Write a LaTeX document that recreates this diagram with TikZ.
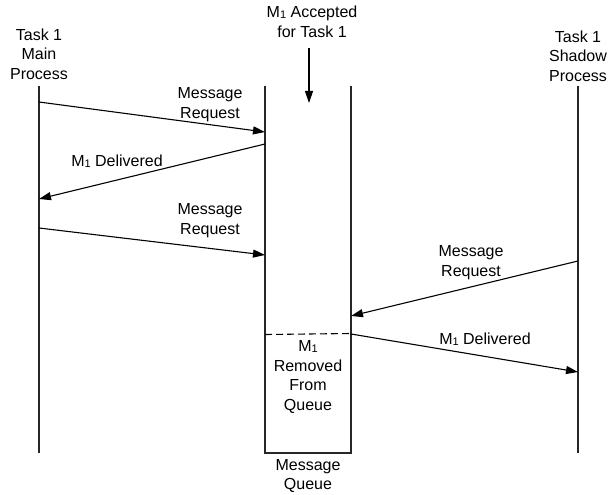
\documentclass[tikz,border=0pt]{standalone}
\usepackage{fontspec}
\setmainfont{Liberation Sans}
\usetikzlibrary{arrows.meta}
\newcommand{\Mone}{M{\fontsize{11}{11}\selectfont\raisebox{-0.5pt}{1}}}
\begin{document}
\begin{tikzpicture}[x=1pt,y=-1pt,
  lbl/.style={align=center,font=\fontsize{16}{19.5}\selectfont,inner sep=0pt},
  life/.style={line width=1.3pt,draw=black!85},
  msg/.style={line width=1.1pt,draw=black,-{Triangle[length=12pt,width=8pt]}}]
\useasboundingbox (0,0) rectangle (608,495);

% lifelines and headings
\node[lbl] (mainlbl) at (39,54) {Task 1\\Main\\Process};
\node[lbl] (shadowlbl) at (578,56) {Task 1\\Shadow\\Process};
\coordinate (mtop) at (39,86);
\coordinate (mbot) at (39,453);
\coordinate (stop) at (578,86);
\coordinate (sbot) at (578,453);
\draw[life] (mtop) -- (mbot);
\draw[life] (stop) -- (sbot);

% message queue (open at the top)
\coordinate (qtl) at (265,86);
\coordinate (qbl) at (265,453);
\coordinate (qbr) at (351,453);
\coordinate (qtr) at (351,86);
\draw[life] (qtl) -- (qbl) -- (qbr) -- (qtr);
\coordinate (dl) at (265,334.5);
\coordinate (dr) at (351,333.5);
\draw[line width=1.1pt,dash pattern=on 7pt off 4pt] (dl) -- (dr);
\node[lbl] (removed) at (308,377) {\Mone\\Removed\\From\\Queue};
\node[lbl] (queuelbl) at (308,476) {Message\\Queue};

% accepted marker
\node[lbl] (accepted) at (312,22) {\Mone{} Accepted\\for Task 1};
\coordinate (acc1) at (309,48);
\coordinate (acc2) at (309,103);
\draw[msg] (acc1) -- (acc2);

% messages
\coordinate (a1s) at (39,102);   \coordinate (a1e) at (265,132);
\coordinate (a2s) at (265,144);  \coordinate (a2e) at (39,199);
\coordinate (a3s) at (39,228);   \coordinate (a3e) at (265,255);
\coordinate (a4s) at (578,261);  \coordinate (a4e) at (351,316);
\coordinate (a5s) at (351,334);  \coordinate (a5e) at (578,372);
\draw[msg] (a1s) -- (a1e);
\draw[msg] (a2s) -- (a2e);
\draw[msg] (a3s) -- (a3e);
\draw[msg] (a4s) -- (a4e);
\draw[msg] (a5s) -- (a5e);

\node[lbl] (l1) at (210,104.5) {Message\\Request};
\node[lbl] (l2) at (117,161) {\Mone{} Delivered};
\node[lbl] (l3) at (210,220.5) {Message\\Request};
\node[lbl] (l4) at (471,262.5) {Message\\Request};
\node[lbl] (l5) at (485,339) {\Mone{} Delivered};
\end{tikzpicture}
\end{document}
